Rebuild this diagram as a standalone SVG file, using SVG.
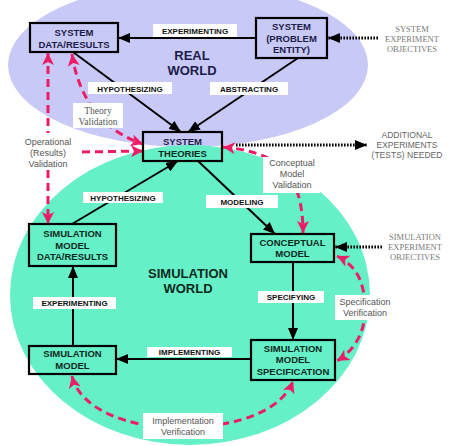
<svg xmlns="http://www.w3.org/2000/svg" width="450" height="446" viewBox="0 0 450 446">
<style>
.box{fill:none;stroke:#000;stroke-width:2.2}
.bt{font-family:"Liberation Sans",Arial,sans-serif;font-weight:bold;font-size:9.5px;text-anchor:middle}
.rw{fill:#1c1c48}
.sw{fill:#0c2a1c}
.lbl{fill:#fff}
.lt{font-family:"Liberation Sans",Arial,sans-serif;font-weight:bold;font-size:8px;text-anchor:middle;fill:#111}
.con{fill:none;stroke:#000;stroke-width:2;marker-end:url(#ah)}
.dot{fill:none;stroke:#000;stroke-width:3;stroke-dasharray:1.6 1.4;marker-end:url(#ahd)}
.pk{fill:none;stroke:#ec1c66;stroke-width:3;stroke-dasharray:8 5;marker-end:url(#ap)}
.pk2{marker-start:url(#ap)}
.wt{font-family:"Liberation Sans",Arial,sans-serif;font-weight:bold;font-size:13px;text-anchor:middle}
.gs{font-family:"Liberation Serif","Times New Roman",serif;font-size:8.5px;text-anchor:middle;fill:#7a7a7a}
.ga{font-family:"Liberation Sans",Arial,sans-serif;font-size:8.5px;text-anchor:middle;fill:#666}
.pt{font-family:"Liberation Sans",Arial,sans-serif;font-size:9px;text-anchor:middle;fill:#555}
.ps{font-family:"Liberation Serif","Times New Roman",serif;font-size:9.5px;text-anchor:middle;fill:#555}
</style>
<defs>
<marker id="ah" viewBox="0 0 12 10" refX="12" refY="5" markerWidth="12" markerHeight="10" markerUnits="userSpaceOnUse" orient="auto-start-reverse"><path d="M0,0 L12,5 L0,10 z" fill="#000"/></marker>
<marker id="ahd" viewBox="0 0 12 10" refX="12" refY="5" markerWidth="12" markerHeight="10" markerUnits="userSpaceOnUse" orient="auto-start-reverse"><path d="M0,0 L12,5 L0,10 z" fill="#000"/></marker>
<marker id="ap" viewBox="0 0 12 12" refX="12" refY="6" markerWidth="12" markerHeight="12" markerUnits="userSpaceOnUse" orient="auto-start-reverse"><path d="M0,0 L12,6 L0,12 L3,6 z" fill="#ec1c66"/></marker>
</defs>
<rect width="450" height="446" fill="#fff"/>
<ellipse cx="188" cy="65" rx="180" ry="82" fill="#c9c9f7"/>
<ellipse cx="190" cy="295" rx="180" ry="150" fill="#66f0c8"/>
<text class="wt rw" x="192" y="60">REAL</text>
<text class="wt rw" x="192" y="75">WORLD</text>
<text class="wt sw" x="188" y="278">SIMULATION</text>
<text class="wt sw" x="188" y="293">WORLD</text>

<g id="connectors">
<path class="con" d="M256,38 L118,38"/>
<path class="con" d="M73,52 L181,132"/>
<path class="con" d="M298,58 L188,132"/>
<path class="con" d="M72,224 L178,161"/>
<path class="con" d="M198,161 L275,234"/>
<path class="con" d="M293,262 L293,340"/>
<path class="con" d="M251,359 L116,359"/>
<path class="con" d="M73,346 L73,266"/>
<path class="dot" d="M378,38 L328,38"/>
<path class="dot" d="M236,145 L367,145"/>
<path class="dot" d="M382,247 L335,247"/>
<path class="pk pk2" d="M48,53 L48,224"/>
<path class="pk" d="M82,152 L143,151"/>
<path class="pk pk2" d="M72,54 C78,95 100,130 143,144"/>
<path class="pk pk2" d="M223,147 C275,152 303,170 303,233"/>
<path class="pk pk2" d="M337,256 C358,266 365,285 365,310 C365,335 352,352 337,361"/>
<path class="pk pk2" d="M72,376 C80,410 130,428 180,428 C240,427 282,410 293,381"/>
<rect class="lbl" x="153" y="24" width="84" height="13"/>
<text class="lt" x="195" y="34">EXPERIMENTING</text>
<rect class="lbl" x="88" y="82" width="84" height="12"/>
<text class="lt" x="130" y="91.5">HYPOTHESIZING</text>
<rect class="lbl" x="210" y="82" width="78" height="13"/>
<text class="lt" x="249" y="91.5">ABSTRACTING</text>
<rect class="lbl" x="83" y="192" width="80" height="11"/>
<text class="lt" x="123" y="200.5">HYPOTHESIZING</text>
<rect class="lbl" x="206" y="195" width="72" height="13"/>
<text class="lt" x="242" y="204.5">MODELING</text>
<rect class="lbl" x="258" y="291" width="66" height="12"/>
<text class="lt" x="291" y="300">SPECIFYING</text>
<rect class="lbl" x="147" y="347" width="85" height="10"/>
<text class="lt" x="189.5" y="355">IMPLEMENTING</text>
<rect class="lbl" x="33" y="297" width="83" height="12"/>
<text class="lt" x="74.5" y="306">EXPERIMENTING</text>
<rect class="lbl" x="22" y="133" width="53" height="37"/>
<text class="pt" x="48" y="144.5">Operational</text>
<text class="pt" x="48" y="155.5">(Results)</text>
<text class="pt" x="48" y="166.5">Validation</text>
<rect class="lbl" x="73" y="103" width="50" height="25"/>
<text class="ps" x="98" y="113.5">Theory</text>
<text class="ps" x="98" y="124.5">Validation</text>
<rect class="lbl" x="263" y="157" width="57" height="36"/>
<text class="pt" x="292" y="166">Conceptual</text>
<text class="pt" x="292" y="177">Model</text>
<text class="pt" x="292" y="188">Validation</text>
<rect class="lbl" x="335" y="295" width="57" height="25"/>
<text class="pt" x="365" y="305">Specification</text>
<text class="pt" x="365" y="316">Verification</text>
<rect class="lbl" x="143" y="413" width="80" height="26"/>
<text class="pt" x="183" y="424">Implementation</text>
<text class="pt" x="183" y="435">Verification</text>
</g>

<text class="gs" x="412" y="32">SYSTEM</text>
<text class="gs" x="412" y="42">EXPERIMENT</text>
<text class="gs" x="412" y="52">OBJECTIVES</text>
<text class="ga" x="407" y="138">ADDITIONAL</text>
<text class="ga" x="407" y="148">EXPERIMENTS</text>
<text class="ga" x="407" y="158">(TESTS) NEEDED</text>
<text class="gs" x="415" y="240">SIMULATION</text>
<text class="gs" x="415" y="250">EXPERIMENT</text>
<text class="gs" x="415" y="260">OBJECTIVES</text>

<g id="sys-data">
<rect class="box" x="30" y="23" width="88" height="29"/>
<text class="bt rw" x="74" y="36">SYSTEM</text>
<text class="bt rw" x="74" y="48">DATA/RESULTS</text>
</g>
<g id="system">
<rect class="box" x="256" y="18" width="71" height="40"/>
<text class="bt rw" x="291.5" y="30">SYSTEM</text>
<text class="bt rw" x="291.5" y="41.5">(PROBLEM</text>
<text class="bt rw" x="291.5" y="53">ENTITY)</text>
</g>
<g id="theories">
<rect class="box" x="143" y="132" width="79" height="29"/>
<text class="bt rw" x="182.5" y="144.5">SYSTEM</text>
<text class="bt sw" x="182.5" y="156.5">THEORIES</text>
</g>
<g id="sim-data">
<rect class="box" x="29" y="224" width="87" height="42"/>
<text class="bt sw" x="72.5" y="236.5">SIMULATION</text>
<text class="bt sw" x="72.5" y="248.5">MODEL</text>
<text class="bt sw" x="72.5" y="260">DATA/RESULTS</text>
</g>
<g id="conceptual">
<rect class="box" x="251" y="234" width="83" height="28"/>
<text class="bt sw" x="292.5" y="245.5">CONCEPTUAL</text>
<text class="bt sw" x="292.5" y="257">MODEL</text>
</g>
<g id="spec">
<rect class="box" x="251" y="340" width="84" height="40"/>
<text class="bt sw" x="293" y="351.5">SIMULATION</text>
<text class="bt sw" x="293" y="363">MODEL</text>
<text class="bt sw" x="293" y="374.5">SPECIFICATION</text>
</g>
<g id="sim-model">
<rect class="box" x="29" y="346" width="87" height="28"/>
<text class="bt sw" x="72.5" y="357">SIMULATION</text>
<text class="bt sw" x="72.5" y="369">MODEL</text>
</g>
</svg>
